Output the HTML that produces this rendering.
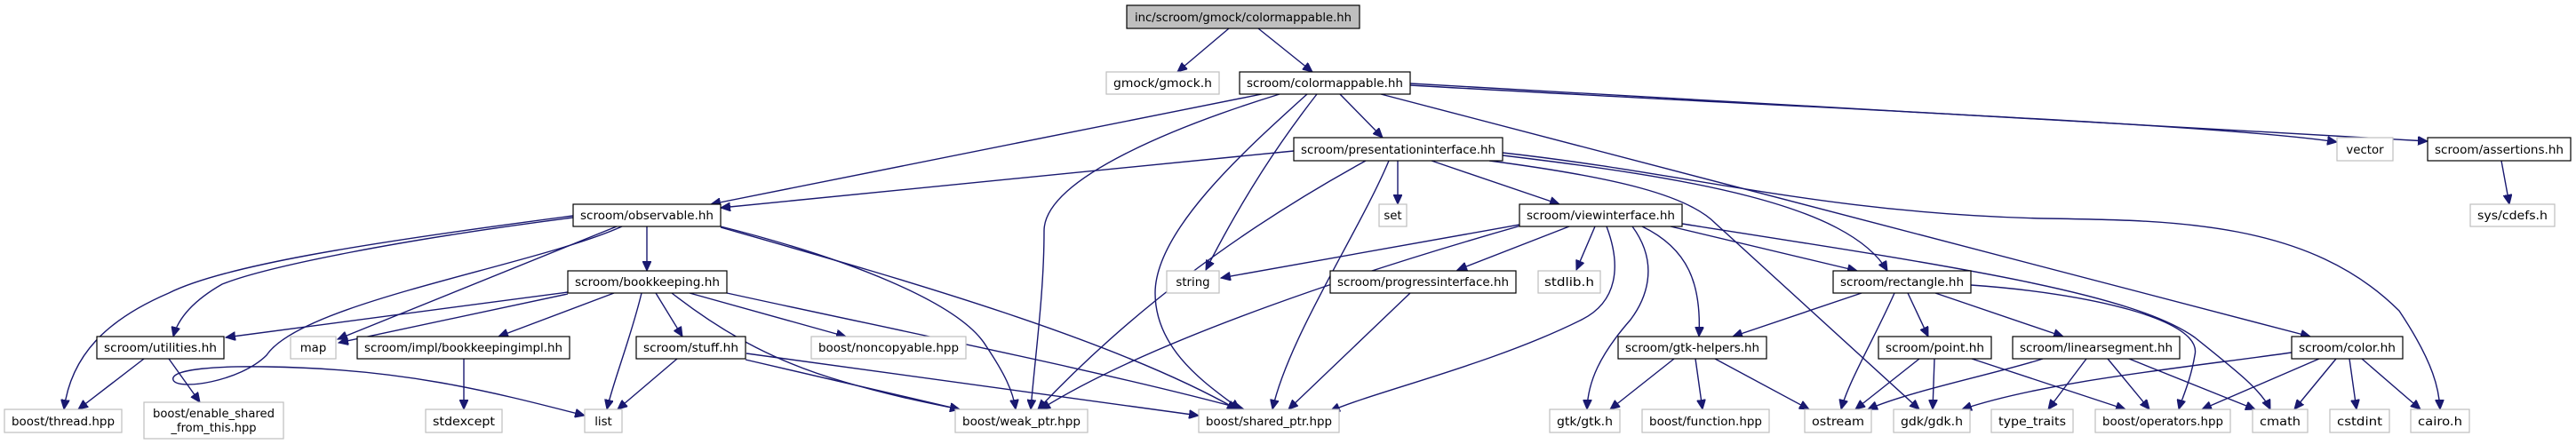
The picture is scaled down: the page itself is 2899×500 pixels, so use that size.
<!DOCTYPE html>
<html><head><meta charset="utf-8"><style>
html,body{margin:0;padding:0;background:#fff;width:2899px;height:500px;overflow:hidden}
svg{display:block}
text{font-family:"DejaVu Sans","Liberation Sans",sans-serif;font-size:13.3px;fill:#000}
.e{fill:none;stroke:#191970;stroke-width:1.4}
.n{fill:#fff;stroke:#000;stroke-width:1.2}
.g{fill:#fff;stroke:#bfbfbf;stroke-width:1.2}
</style></head><body>
<svg width="2899" height="500" viewBox="0 0 2899 500" xmlns="http://www.w3.org/2000/svg">
<defs><marker id="a" markerUnits="userSpaceOnUse" markerWidth="12" markerHeight="10" refX="11" refY="5" orient="auto"><path d="M0,0 L11,5 L0,10 Z" fill="#191970" stroke="#191970"/></marker></defs>
<g marker-end="url(#a)">
<path class="e" d="M1383,32 L1325,81"/>
<path class="e" d="M1416,32 L1477,81"/>
<path class="e" d="M1420,106 L800,230"/>
<path class="e" d="M1456,170 L811,234"/>
<path class="e" d="M1440,106 C1330,140 1175,200 1175,260 C1175,330 1165,400 1160,461"/>
<path class="e" d="M1482,106 C1440,160 1400,220 1357,304"/>
<path class="e" d="M1471,106 C1400,170 1300,260 1300,330 C1300,400 1370,440 1395,461"/>
<path class="e" d="M1508,106 L1556,155"/>
<path class="e" d="M1587,96 C2000,120 2500,140 2630,160"/>
<path class="e" d="M1587,94 L2732,159"/>
<path class="e" d="M1554,106 L2600,379"/>
<path class="e" d="M1537,181 Q1320,300 1168,461"/>
<path class="e" d="M1563,181 C1530,260 1450,380 1432,461"/>
<path class="e" d="M1573,181 L1573,230"/>
<path class="e" d="M1611,181 L1755,230"/>
<path class="e" d="M1691,175 C1900,200 2080,230 2124,305"/>
<path class="e" d="M1676,181 C1820,200 1900,220 1931,252 L2160,461"/>
<path class="e" d="M1691,172 C1900,195 2050,240 2300,246 C2450,248 2600,250 2700,350 C2740,410 2745,440 2746,461"/>
<path class="e" d="M1710,253 L1374,313"/>
<path class="e" d="M1712,254 C1550,300 1300,380 1171,461"/>
<path class="e" d="M1808,255 C1825,300 1820,340 1780,360 C1680,410 1550,440 1497,463"/>
<path class="e" d="M1766,255 L1640,304"/>
<path class="e" d="M1795,255 L1774,304"/>
<path class="e" d="M1837,255 C1870,300 1850,340 1835,360 C1800,400 1787,430 1786,461"/>
<path class="e" d="M1848,255 C1900,280 1915,320 1912,379"/>
<path class="e" d="M1880,255 L2090,305"/>
<path class="e" d="M1893,252 C2200,300 2400,330 2470,380 C2520,420 2545,440 2555,461"/>
<path class="e" d="M1587,330 L1450,461"/>
<path class="e" d="M2095,330 L1950,379"/>
<path class="e" d="M2147,330 L2170,379"/>
<path class="e" d="M2178,330 L2322,379"/>
<path class="e" d="M2132,330 C2110,380 2080,430 2072,461"/>
<path class="e" d="M2218,321 C2350,330 2480,360 2470,400 C2465,430 2455,450 2452,461"/>
<path class="e" d="M1884,404 L1812,461"/>
<path class="e" d="M1908,404 L1916,461"/>
<path class="e" d="M1930,404 L2036,461"/>
<path class="e" d="M2160,404 L2088,461"/>
<path class="e" d="M2177,404 L2175,461"/>
<path class="e" d="M2219,404 L2392,461"/>
<path class="e" d="M2299,404 C2250,420 2150,440 2102,461"/>
<path class="e" d="M2348,404 L2305,461"/>
<path class="e" d="M2372,404 L2419,461"/>
<path class="e" d="M2396,404 L2538,461"/>
<path class="e" d="M2579,397 C2450,415 2300,430 2208,461"/>
<path class="e" d="M2610,404 L2478,461"/>
<path class="e" d="M2629,404 L2582,461"/>
<path class="e" d="M2644,404 L2652,461"/>
<path class="e" d="M2658,404 L2724,461"/>
<path class="e" d="M2815,181 L2824,230"/>
<path class="e" d="M728,255 L728,305"/>
<path class="e" d="M645,245 C450,270 300,300 250,320 C215,340 200,360 195,379"/>
<path class="e" d="M645,243 C400,275 250,300 190,330 C120,360 80,400 72,461"/>
<path class="e" d="M694,255 L380,382"/>
<path class="e" d="M700,255 C600,300 340,340 300,400 C270,430 200,440 195,428 C190,415 250,412 300,413 C450,415 550,440 658,468"/>
<path class="e" d="M811,255 C950,290 1080,340 1110,390 C1130,420 1140,440 1143,461"/>
<path class="e" d="M811,256 C1000,310 1250,380 1392,461"/>
<path class="e" d="M639,329 L254,380"/>
<path class="e" d="M639,331 L381,386"/>
<path class="e" d="M691,330 L561,379"/>
<path class="e" d="M722,330 C710,380 690,430 683,461"/>
<path class="e" d="M738,330 L768,379"/>
<path class="e" d="M756,330 C820,380 880,410 950,430 C1000,445 1050,455 1080,461"/>
<path class="e" d="M776,330 L952,379"/>
<path class="e" d="M818,330 C1000,370 1250,420 1400,461"/>
<path class="e" d="M522,404 L522,461"/>
<path class="e" d="M162,404 L88,461"/>
<path class="e" d="M190,404 L225,453"/>
<path class="e" d="M762,404 L695,461"/>
<path class="e" d="M839,405 L1080,461"/>
<path class="e" d="M840,398 L1349,468"/>
</g>
<g id="nodes"></g>
<rect x="1268" y="6" width="262" height="26" fill="#bfbfbf" stroke="#000" stroke-width="1.2"/><text x="1399" y="24" text-anchor="middle" textLength="244" lengthAdjust="spacingAndGlyphs">inc/scroom/gmock/colormappable.hh</text>
<rect class="g" x="1245" y="81" width="127" height="25"/><text x="1308.5" y="98" text-anchor="middle" textLength="111" lengthAdjust="spacingAndGlyphs">gmock/gmock.h</text>
<rect class="n" x="1395" y="81" width="192" height="25"/><text x="1491" y="98" text-anchor="middle" textLength="176" lengthAdjust="spacingAndGlyphs">scroom/colormappable.hh</text>
<rect class="n" x="1456" y="155" width="235" height="26"/><text x="1573.5" y="173" text-anchor="middle" textLength="219" lengthAdjust="spacingAndGlyphs">scroom/presentationinterface.hh</text>
<rect class="g" x="2630" y="155" width="63" height="26"/><text x="2661.5" y="173" text-anchor="middle">vector</text>
<rect class="n" x="2732" y="155" width="161" height="26"/><text x="2812.5" y="173" text-anchor="middle" textLength="145" lengthAdjust="spacingAndGlyphs">scroom/assertions.hh</text>
<rect class="n" x="645" y="230" width="166" height="25"/><text x="728" y="247" text-anchor="middle" textLength="150" lengthAdjust="spacingAndGlyphs">scroom/observable.hh</text>
<rect class="g" x="1552" y="230" width="31" height="25"/><text x="1567.5" y="247" text-anchor="middle">set</text>
<rect class="n" x="1710" y="230" width="183" height="25"/><text x="1801.5" y="247" text-anchor="middle" textLength="167" lengthAdjust="spacingAndGlyphs">scroom/viewinterface.hh</text>
<rect class="g" x="2780" y="230" width="95" height="25"/><text x="2827.5" y="247" text-anchor="middle" textLength="79" lengthAdjust="spacingAndGlyphs">sys/cdefs.h</text>
<rect class="n" x="639" y="305" width="179" height="25"/><text x="728.5" y="322" text-anchor="middle" textLength="163" lengthAdjust="spacingAndGlyphs">scroom/bookkeeping.hh</text>
<rect class="g" x="1313" y="305" width="59" height="25"/><text x="1342.5" y="322" text-anchor="middle">string</text>
<rect class="n" x="1497" y="305" width="209" height="25"/><text x="1601.5" y="322" text-anchor="middle" textLength="193" lengthAdjust="spacingAndGlyphs">scroom/progressinterface.hh</text>
<rect class="g" x="1731" y="305" width="70" height="25"/><text x="1766" y="322" text-anchor="middle" textLength="56" lengthAdjust="spacingAndGlyphs">stdlib.h</text>
<rect class="n" x="2063" y="305" width="155" height="25"/><text x="2140.5" y="322" text-anchor="middle" textLength="139" lengthAdjust="spacingAndGlyphs">scroom/rectangle.hh</text>
<rect class="n" x="109" y="379" width="143" height="25"/><text x="180.5" y="396" text-anchor="middle" textLength="127" lengthAdjust="spacingAndGlyphs">scroom/utilities.hh</text>
<rect class="g" x="327" y="379" width="51" height="25"/><text x="352.5" y="396" text-anchor="middle">map</text>
<rect class="n" x="402" y="379" width="239" height="25"/><text x="521.5" y="396" text-anchor="middle" textLength="223" lengthAdjust="spacingAndGlyphs">scroom/impl/bookkeepingimpl.hh</text>
<rect class="n" x="716" y="379" width="123" height="25"/><text x="777.5" y="396" text-anchor="middle" textLength="107" lengthAdjust="spacingAndGlyphs">scroom/stuff.hh</text>
<rect class="g" x="913" y="379" width="174" height="25"/><text x="1000" y="396" text-anchor="middle" textLength="158" lengthAdjust="spacingAndGlyphs">boost/noncopyable.hpp</text>
<rect class="n" x="1821" y="379" width="167" height="25"/><text x="1904.5" y="396" text-anchor="middle" textLength="151" lengthAdjust="spacingAndGlyphs">scroom/gtk-helpers.hh</text>
<rect class="n" x="2114" y="379" width="127" height="25"/><text x="2177.5" y="396" text-anchor="middle" textLength="111" lengthAdjust="spacingAndGlyphs">scroom/point.hh</text>
<rect class="n" x="2265" y="379" width="188" height="25"/><text x="2359" y="396" text-anchor="middle" textLength="172" lengthAdjust="spacingAndGlyphs">scroom/linearsegment.hh</text>
<rect class="n" x="2579" y="379" width="125" height="25"/><text x="2641.5" y="396" text-anchor="middle" textLength="109" lengthAdjust="spacingAndGlyphs">scroom/color.hh</text>
<rect class="g" x="5" y="461" width="132" height="26"/><text x="71" y="479" text-anchor="middle" textLength="116" lengthAdjust="spacingAndGlyphs">boost/thread.hpp</text>
<rect class="g" x="162" y="453" width="157" height="41"/><text x="240.5" y="470" text-anchor="middle" textLength="137" lengthAdjust="spacingAndGlyphs">boost/enable_shared</text><text x="240.5" y="486" text-anchor="middle" textLength="96" lengthAdjust="spacingAndGlyphs">_from_this.hpp</text>
<rect class="g" x="479" y="461" width="86" height="26"/><text x="522" y="479" text-anchor="middle" textLength="70" lengthAdjust="spacingAndGlyphs">stdexcept</text>
<rect class="g" x="658" y="461" width="42" height="26"/><text x="679" y="479" text-anchor="middle">list</text>
<rect class="g" x="1075" y="461" width="149" height="26"/><text x="1149.5" y="479" text-anchor="middle" textLength="133" lengthAdjust="spacingAndGlyphs">boost/weak_ptr.hpp</text>
<rect class="g" x="1349" y="461" width="158" height="26"/><text x="1428" y="479" text-anchor="middle" textLength="142" lengthAdjust="spacingAndGlyphs">boost/shared_ptr.hpp</text>
<rect class="g" x="1744" y="461" width="79" height="26"/><text x="1783.5" y="479" text-anchor="middle" textLength="63" lengthAdjust="spacingAndGlyphs">gtk/gtk.h</text>
<rect class="g" x="1848" y="461" width="143" height="26"/><text x="1919.5" y="479" text-anchor="middle" textLength="127" lengthAdjust="spacingAndGlyphs">boost/function.hpp</text>
<rect class="g" x="2031" y="461" width="75" height="26"/><text x="2068.5" y="479" text-anchor="middle" textLength="59" lengthAdjust="spacingAndGlyphs">ostream</text>
<rect class="g" x="2131" y="461" width="86" height="26"/><text x="2174" y="479" text-anchor="middle" textLength="70" lengthAdjust="spacingAndGlyphs">gdk/gdk.h</text>
<rect class="g" x="2241" y="461" width="92" height="26"/><text x="2287" y="479" text-anchor="middle" textLength="76" lengthAdjust="spacingAndGlyphs">type_traits</text>
<rect class="g" x="2358" y="461" width="152" height="26"/><text x="2434" y="479" text-anchor="middle" textLength="136" lengthAdjust="spacingAndGlyphs">boost/operators.hpp</text>
<rect class="g" x="2535" y="461" width="62" height="26"/><text x="2566" y="479" text-anchor="middle" textLength="46" lengthAdjust="spacingAndGlyphs">cmath</text>
<rect class="g" x="2622" y="461" width="67" height="26"/><text x="2655.5" y="479" text-anchor="middle" textLength="51" lengthAdjust="spacingAndGlyphs">cstdint</text>
<rect class="g" x="2713" y="461" width="66" height="26"/><text x="2746" y="479" text-anchor="middle" textLength="50" lengthAdjust="spacingAndGlyphs">cairo.h</text>
</svg>
</body></html>
